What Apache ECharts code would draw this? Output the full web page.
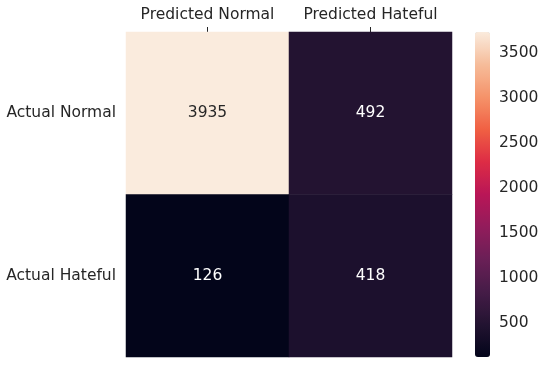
<!DOCTYPE html>
<html><head><meta charset="utf-8">
<script src="https://cdn.jsdelivr.net/npm/echarts@6/dist/echarts.min.js"></script>
<style>html,body{margin:0;padding:0;background:#fff}#c{width:546px;height:365px}</style>
</head><body><div id="c"></div>
<script>
var xCategories = ['Predicted Normal', 'Predicted Hateful'];
var yCategories = ['Actual Normal', 'Actual Hateful'];
var row0 = [3935, 492];
var row1 = [126, 418];
var colorbarTicks = [500, 1000, 1500, 2000, 2500, 3000, 3500];
var scaleMin = 126, scaleMax = 3730;

var rocket = ['#03051a','#221331','#451c47','#6a1f56','#921c5b','#b91657','#dd2c45','#f06043','#f5936a','#f6bc9a','#faebdd'];
var rows = [row0, row1];
var data = [];
rows.forEach(function(r, yi){
  r.forEach(function(v, xi){
    data.push({value:[xi, yi, v], label:{color: v > 2500 ? '#262626' : '#ffffff'}});
  });
});
var font = 'DejaVu Sans';
var fs = 15.5;
var chart = echarts.init(document.getElementById('c'), null, {renderer:'canvas'});
chart.setOption({
  animation:false,
  textStyle:{fontFamily:font},
  grid:[
    {left:126, top:32, width:326, height:325},
    {left:475, top:32, width:15, height:325}
  ],
  xAxis:[
    {type:'category', data:xCategories, position:'top', gridIndex:0,
     axisLine:{show:false}, splitLine:{show:false},
     axisTick:{show:true, alignWithLabel:true, interval:0, length:5, lineStyle:{color:'#262626', width:1}},
     axisLabel:{fontFamily:font, fontSize:fs, color:'#262626', margin:9, interval:0}},
    {type:'value', gridIndex:1, show:false, min:0, max:1}
  ],
  yAxis:[
    {type:'category', data:yCategories, inverse:true, gridIndex:0,
     axisLine:{show:false}, axisTick:{show:false}, splitLine:{show:false},
     axisLabel:{fontFamily:font, fontSize:fs, color:'#262626', margin:10, interval:0}},
    {type:'value', gridIndex:1, position:'right', min:scaleMin, max:scaleMax,
     axisLine:{show:false}, splitLine:{show:false},
     axisTick:{show:true, length:4, lineStyle:{color:'#262626'}, customValues:colorbarTicks},
     axisLabel:{fontFamily:font, fontSize:fs, color:'#262626', margin:9, customValues:colorbarTicks,
       formatter:function(v){return String(v);}}}
  ],
  visualMap:{type:'continuous', min:scaleMin, max:scaleMax, calculable:false, seriesIndex:0,
    orient:'vertical', left:475, top:32, itemWidth:15, itemHeight:325, padding:0,
    text:['',''], showLabel:false, inRange:{color:rocket}, hoverLink:false},
  series:[
    {type:'heatmap', xAxisIndex:0, yAxisIndex:0, data:data,
     label:{show:true, fontFamily:font, fontSize:fs},
     itemStyle:{borderWidth:0}},
    {type:'scatter', xAxisIndex:1, yAxisIndex:1, data:[], silent:true}
  ]
});
</script></body></html>
